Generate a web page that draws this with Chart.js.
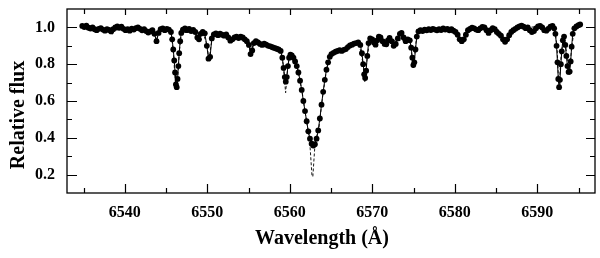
<!DOCTYPE html>
<html>
<head>
<meta charset="utf-8">
<script src="https://cdn.jsdelivr.net/npm/chart.js@4.4.1/dist/chart.umd.min.js"></script>
<style>
    html, body { margin: 0; padding: 0; background: #fff; }
    canvas { display: block; }
</style>
</head>
<body>
<canvas id="myChart" width="600" height="258"></canvas>
<script>
// observed spectrum (dots)
var wavelengths = [
    6534.85, 6535.10, 6535.35, 6535.60, 6535.85, 6536.10, 6536.35, 6536.60, 6536.85, 6537.10,
    6537.35, 6537.60, 6537.85, 6538.10, 6538.35, 6538.60, 6538.85, 6539.10, 6539.35, 6539.60,
    6539.85, 6540.10, 6540.35, 6540.60, 6540.85, 6541.10, 6541.35, 6541.60, 6541.85, 6542.10,
    6542.35, 6542.60, 6542.85, 6543.10, 6543.35, 6543.60, 6543.85, 6544.10, 6544.35, 6544.60,
    6544.85, 6545.10, 6545.35, 6545.60, 6545.75, 6545.88, 6546.00, 6546.10, 6546.20, 6546.30,
    6546.40, 6546.50, 6546.60, 6546.72, 6546.85, 6547.05, 6547.30, 6547.55, 6547.80, 6548.05,
    6548.30, 6548.55, 6548.80, 6549.00, 6549.20, 6549.45, 6549.70, 6549.95, 6550.15, 6550.35,
    6550.55, 6550.80, 6551.05, 6551.30, 6551.55, 6551.80, 6552.05, 6552.30, 6552.55, 6552.80,
    6553.05, 6553.30, 6553.55, 6553.80, 6554.05, 6554.30, 6554.55, 6554.80, 6555.05, 6555.25,
    6555.45, 6555.65, 6555.90, 6556.15, 6556.40, 6556.65, 6556.90, 6557.15, 6557.40, 6557.65,
    6557.90, 6558.15, 6558.40, 6558.65, 6558.90, 6559.10, 6559.25, 6559.40, 6559.52, 6559.64,
    6559.78, 6559.92, 6560.08, 6560.25, 6560.45, 6560.65, 6560.85, 6561.05, 6561.25, 6561.45,
    6561.65, 6561.85, 6562.05, 6562.25, 6562.45, 6562.65, 6562.85, 6563.05, 6563.25, 6563.45,
    6563.65, 6563.85, 6564.05, 6564.25, 6564.45, 6564.65, 6564.85, 6565.05, 6565.30, 6565.55,
    6565.80, 6566.05, 6566.30, 6566.55, 6566.80, 6567.05, 6567.30, 6567.55, 6567.80, 6568.05,
    6568.30, 6568.55, 6568.75, 6568.90, 6569.02, 6569.14, 6569.26, 6569.40, 6569.55, 6569.75,
    6570.00, 6570.20, 6570.40, 6570.60, 6570.80, 6571.00, 6571.25, 6571.50, 6571.70, 6571.90,
    6572.10, 6572.35, 6572.60, 6572.85, 6573.10, 6573.35, 6573.55, 6573.80, 6574.05, 6574.30,
    6574.55, 6574.72, 6574.86, 6574.98, 6575.10, 6575.24, 6575.40, 6575.60, 6575.85, 6576.10,
    6576.35, 6576.60, 6576.85, 6577.10, 6577.35, 6577.60, 6577.85, 6578.10, 6578.35, 6578.60,
    6578.85, 6579.10, 6579.35, 6579.60, 6579.85, 6580.10, 6580.35, 6580.60, 6580.85, 6581.10,
    6581.35, 6581.60, 6581.85, 6582.10, 6582.35, 6582.60, 6582.85, 6583.10, 6583.35, 6583.60,
    6583.85, 6584.10, 6584.35, 6584.60, 6584.85, 6585.10, 6585.35, 6585.60, 6585.85, 6586.10,
    6586.35, 6586.60, 6586.85, 6587.10, 6587.35, 6587.60, 6587.85, 6588.10, 6588.35, 6588.60,
    6588.85, 6589.10, 6589.35, 6589.60, 6589.85, 6590.10, 6590.35, 6590.60, 6590.85, 6591.10,
    6591.35, 6591.60, 6591.85, 6592.05, 6592.20, 6592.34, 6592.45, 6592.55, 6592.65, 6592.75,
    6592.86, 6592.97, 6593.10, 6593.25, 6593.40, 6593.53, 6593.66, 6593.80, 6593.93, 6594.05,
    6594.17, 6594.30, 6594.50, 6594.75, 6595.00, 6595.20
];
var observedFlux = [
    1.008, 1.002, 1.010, 0.998, 0.994, 1.000, 0.990, 0.985, 0.992, 0.996,
    0.988, 0.982, 0.990, 0.986, 0.978, 0.990, 1.000, 1.006, 0.998, 1.004,
    0.992, 0.985, 0.990, 0.982, 0.993, 0.988, 0.996, 1.000, 0.992, 0.984,
    0.990, 0.980, 0.972, 0.978, 0.985, 0.965, 0.925, 0.970, 0.990, 0.995,
    0.985, 0.992, 0.988, 0.975, 0.935, 0.880, 0.820, 0.755, 0.690, 0.675,
    0.720, 0.790, 0.860, 0.925, 0.970, 0.988, 0.995, 0.985, 0.992, 0.980,
    0.986, 0.975, 0.945, 0.935, 0.965, 0.975, 0.968, 0.900, 0.830, 0.840,
    0.940, 0.962, 0.968, 0.958, 0.966, 0.960, 0.955, 0.962, 0.945, 0.928,
    0.935, 0.945, 0.950, 0.942, 0.950, 0.945, 0.935, 0.925, 0.905, 0.855,
    0.875, 0.915, 0.925, 0.918, 0.910, 0.905, 0.912, 0.906, 0.900, 0.897,
    0.892, 0.888, 0.884, 0.880, 0.872, 0.835, 0.780, 0.730, 0.705, 0.730,
    0.790, 0.835, 0.852, 0.848, 0.835, 0.815, 0.790, 0.755, 0.710, 0.660,
    0.600, 0.545, 0.490, 0.435, 0.395, 0.368, 0.358, 0.365, 0.395, 0.440,
    0.505, 0.580, 0.650, 0.715, 0.770, 0.810, 0.840, 0.855, 0.862, 0.868,
    0.872, 0.876, 0.872, 0.878, 0.882, 0.893, 0.902, 0.906, 0.912, 0.915,
    0.918, 0.905, 0.860, 0.800, 0.745, 0.725, 0.765, 0.845, 0.915, 0.940,
    0.935, 0.918, 0.906, 0.930, 0.950, 0.945, 0.925, 0.910, 0.908, 0.930,
    0.943, 0.925, 0.900, 0.910, 0.940, 0.965, 0.970, 0.945, 0.925, 0.935,
    0.930, 0.890, 0.835, 0.795, 0.810, 0.880, 0.950, 0.978, 0.985, 0.980,
    0.988, 0.984, 0.990, 0.986, 0.992, 0.988, 0.984, 0.990, 0.986, 0.994,
    0.988, 0.992, 0.984, 0.990, 0.982, 0.975, 0.960, 0.935, 0.925, 0.935,
    0.960, 0.985, 0.992, 0.998, 0.995, 0.988, 0.985, 0.995, 1.003, 1.000,
    0.985, 0.970, 0.985, 0.996, 0.990, 0.975, 0.965, 0.955, 0.935, 0.922,
    0.935, 0.958, 0.975, 0.985, 0.992, 1.000, 1.006, 1.010, 1.004, 0.996,
    1.000, 0.985, 0.975, 0.980, 0.995, 1.006, 1.008, 1.000, 0.985, 0.982,
    0.992, 1.004, 1.008, 0.995, 0.965, 0.900, 0.810, 0.720, 0.675, 0.715,
    0.800, 0.870, 0.930, 0.950, 0.905, 0.845, 0.790, 0.758, 0.760, 0.815,
    0.895, 0.965, 0.995, 1.005, 1.012, 1.016
];

// model spectrum (dashed)
var modelWavelengths = [
    6534.85, 6536.00, 6537.50, 6538.30, 6538.50, 6538.70, 6540.00, 6542.00, 6543.50, 6543.85,
    6544.20, 6545.60, 6545.90, 6546.10, 6546.25, 6546.40, 6546.60, 6546.85, 6548.50, 6549.00,
    6549.50, 6550.00, 6550.20, 6550.45, 6550.70, 6552.50, 6552.90, 6553.30, 6555.00, 6555.25,
    6555.50, 6556.00, 6558.90, 6559.20, 6559.50, 6559.75, 6560.00, 6560.50, 6561.00, 6561.50,
    6562.00, 6562.30, 6562.45, 6562.70, 6562.80, 6563.05, 6563.20, 6563.50, 6564.00, 6564.50,
    6565.00, 6566.00, 6568.40, 6568.90, 6569.10, 6569.35, 6569.70, 6572.00, 6574.60, 6574.95,
    6575.30, 6575.60, 6578.00, 6580.20, 6580.85, 6581.50, 6582.50, 6584.00, 6585.30, 6586.10,
    6586.80, 6588.00, 6590.00, 6591.80, 6592.10, 6592.40, 6592.62, 6592.90, 6593.20, 6593.50,
    6593.85, 6594.20, 6594.50, 6595.20
];
var modelFlux = [
    1.000, 0.995, 0.990, 0.985, 0.960, 0.985, 0.990, 0.990, 0.985, 0.930,
    0.985, 0.980, 0.860, 0.720, 0.660, 0.710, 0.860, 0.970, 0.980, 0.940,
    0.970, 0.900, 0.820, 0.900, 0.960, 0.955, 0.930, 0.945, 0.920, 0.850,
    0.900, 0.920, 0.875, 0.800, 0.645, 0.780, 0.850, 0.830, 0.770, 0.650,
    0.500, 0.420, 0.360, 0.190, 0.190, 0.360, 0.400, 0.440, 0.630, 0.780,
    0.850, 0.875, 0.915, 0.800, 0.700, 0.820, 0.935, 0.930, 0.930, 0.780,
    0.920, 0.980, 0.988, 0.978, 0.922, 0.970, 0.992, 0.985, 0.970, 0.920,
    0.968, 1.002, 1.002, 1.002, 0.990, 0.900, 0.660, 0.850, 0.950, 0.880,
    0.745, 0.900, 0.995, 1.012
];

var xMajorTicks = [6540, 6550, 6560, 6570, 6580, 6590];
var xMinorTicks = [6535, 6545, 6555, 6565, 6575, 6585, 6595];
var yMajorTicks = [0.2, 0.4, 0.6, 0.8, 1.0];
var yMinorTicks = [0.3, 0.5, 0.7, 0.9];

var xTitle = 'Wavelength (Å)';
var yTitle = 'Relative flux';

var serif = '"Liberation Serif", "Times New Roman", serif';

function toPoints(xs, ys) {
    return xs.map(function (x, i) { return { x: x, y: ys[i] }; });
}

// frame, inward ticks on all four sides, axis titles
var framePlugin = {
    id: 'frame',
    afterDraw: function (chart) {
        var c = chart.ctx;
        var a = chart.chartArea;
        var xs = chart.scales.x;
        var ys = chart.scales.y;
        c.save();
        c.strokeStyle = '#000';
        c.lineWidth = 1.3;
        c.strokeRect(a.left, a.top, a.right - a.left, a.bottom - a.top);

        c.lineWidth = 1.2;
        c.beginPath();
        xMajorTicks.forEach(function (v) {
            var px = Math.round(xs.getPixelForValue(v)) + 0.5;
            c.moveTo(px, a.bottom); c.lineTo(px, a.bottom - 9);
            c.moveTo(px, a.top); c.lineTo(px, a.top + 6);
        });
        xMinorTicks.forEach(function (v) {
            var px = Math.round(xs.getPixelForValue(v)) + 0.5;
            c.moveTo(px, a.bottom); c.lineTo(px, a.bottom - 5);
            c.moveTo(px, a.top); c.lineTo(px, a.top + 5);
        });
        yMajorTicks.forEach(function (v) {
            var py = Math.round(ys.getPixelForValue(v)) + 0.5;
            c.moveTo(a.left, py); c.lineTo(a.left + 10, py);
            c.moveTo(a.right, py); c.lineTo(a.right - 9, py);
        });
        yMinorTicks.forEach(function (v) {
            var py = Math.round(ys.getPixelForValue(v)) + 0.5;
            c.moveTo(a.left, py); c.lineTo(a.left + 5, py);
            c.moveTo(a.right, py); c.lineTo(a.right - 5, py);
        });
        c.stroke();

        c.fillStyle = '#000';
        c.font = 'bold 20px ' + serif;
        c.textAlign = 'center';
        c.textBaseline = 'middle';
        c.fillText(xTitle, 322, 239);
        c.translate(19, 115);
        c.rotate(-Math.PI / 2);
        c.fillText(yTitle, 0, 0);
        c.restore();
    }
};

var tickFont = { family: serif, size: 16, weight: 'bold' };

var ctx = document.getElementById('myChart');
var myChart = new Chart(ctx, {
    type: 'line',
    data: {
        datasets: [{
            label: 'Observed',
            data: toPoints(wavelengths, observedFlux),
            borderColor: '#000',
            backgroundColor: '#000',
            borderWidth: 1,
            pointRadius: 2.9,
            pointBorderWidth: 0,
            pointBackgroundColor: '#000',
            tension: 0,
            order: 1
        }, {
            label: 'Model',
            data: toPoints(modelWavelengths, modelFlux),
            borderColor: '#000',
            borderWidth: 0.9,
            borderDash: [3, 2],
            pointRadius: 0,
            tension: 0,
            order: 2
        }]
    },
    options: {
        responsive: false,
        animation: false,
        events: [],
        layout: { padding: { top: 9, right: 5, left: 0, bottom: 0 } },
        plugins: {
            legend: { display: false },
            tooltip: { enabled: false }
        },
        scales: {
            x: {
                type: 'linear',
                min: 6533,
                max: 6597,
                grid: { display: false, drawTicks: false },
                border: { display: false },
                afterBuildTicks: function (s) {
                    s.ticks = xMajorTicks.map(function (v) { return { value: v }; });
                },
                afterFit: function (s) {
                    s.height = 65;
                    s.paddingLeft = 0;
                    s.paddingRight = 0;
                },
                ticks: {
                    color: '#000',
                    font: tickFont,
                    padding: 10,
                    maxRotation: 0,
                    callback: function (v) { return String(v); }
                }
            },
            y: {
                type: 'linear',
                min: 0.1,
                max: 1.1,
                grid: { display: false, drawTicks: false },
                border: { display: false },
                afterBuildTicks: function (s) {
                    s.ticks = yMajorTicks.map(function (v) { return { value: v }; });
                },
                afterFit: function (s) {
                    s.width = 67;
                    s.paddingTop = 0;
                    s.paddingBottom = 0;
                },
                ticks: {
                    color: '#000',
                    font: tickFont,
                    padding: 12,
                    callback: function (v) { return v.toFixed(1); }
                }
            }
        }
    },
    plugins: [framePlugin]
});
</script>
</body>
</html>
